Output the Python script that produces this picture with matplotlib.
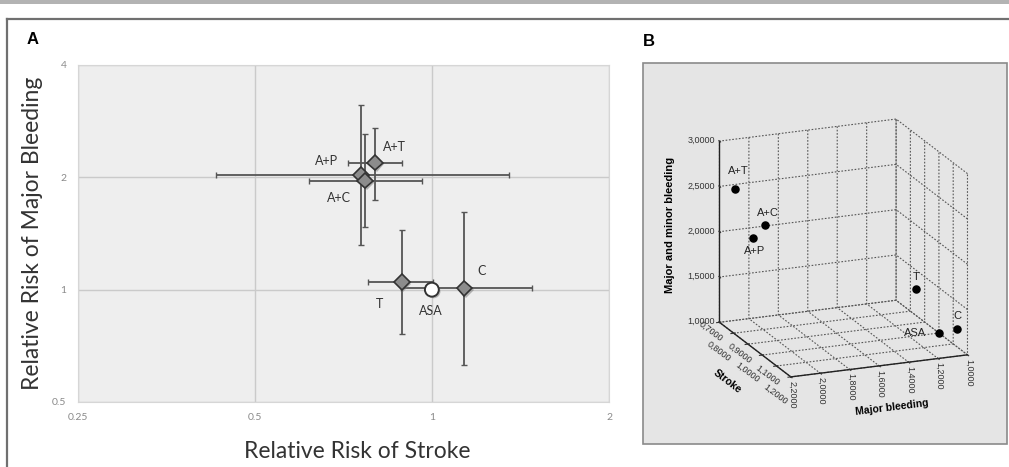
import matplotlib
matplotlib.use('Agg')
import numpy as np
import matplotlib.pyplot as plt
import matplotlib.ticker as mticker
import matplotlib.transforms as mtransforms
import matplotlib.patheffects as pe
from matplotlib.patches import Rectangle
from matplotlib.lines import Line2D

# relative risk vs aspirin alone, point estimate and 95% CI
arms = ['A+T', 'A+P', 'A+C', 'T', 'ASA', 'C']
stroke_rr = [0.80, 0.757, 0.77, 0.889, 1.0, 1.136]
stroke_lo = [0.72, 0.429, 0.618, 0.779, 1.0, 0.885]
stroke_hi = [0.89, 1.35, 0.961, 1.005, 1.0, 1.48]
major_rr = [2.19, 2.03, 1.96, 1.048, 1.0, 1.008]
major_lo = [1.74, 1.32, 1.47, 0.759, 1.0, 0.63]
major_hi = [2.71, 3.12, 2.62, 1.441, 1.0, 1.61]
# major + minor bleeding, used in the 3D view
any_bleed_rr = [2.59, 1.96, 2.105, 1.364, 1.0, 1.21]

# label offsets in points
offs_a = [(14.4, 11.5), (-24.7, 10.3), (-18.5, -12.5), (-16.3, -15.6), (-0.7, -15.1), (12, 12.5)]
offs_b = [(2, 13), (1.5, -9.4), (2, 9), (0, 8.6), (-17, 0), (0, 9.4)]

W, H = 1009, 467
fig = plt.figure(figsize=(W / 100, H / 100), dpi=100)

# outer frame
fig.add_artist(Rectangle((0, 1 - 3.5 / H), 1, 3.5 / H, transform=fig.transFigure,
                         fc='#b3b3b3', ec='none'))
fig.add_artist(Line2D([6.5 / W, 1], [1 - 18.5 / H] * 2, color='#707070', lw=1.6))
fig.add_artist(Line2D([6.5 / W] * 2, [0, 1 - 18.5 / H], color='#707070', lw=1.6))

# ---------------- panel A ----------------
ax = fig.add_axes([77.6 / W, 1 - 402 / H, (609 - 77.6) / W, (402 - 65) / H])
ax.set_xscale('log', base=2)
ax.set_yscale('log', base=2)
ax.set_xlim(0.25, 2)
ax.set_ylim(0.5, 4)
ax.set_facecolor('#eeeeee')
ax.set_xticks([0.25, 0.5, 1, 2])
ax.set_xticklabels(['0.25', '0.5', '1', '2'], family='Lato')
ax.set_yticks([0.5, 1, 2, 4])
ax.set_yticklabels(['0.5', '1', '2', '4'], family='Lato')
ax.xaxis.set_minor_locator(mticker.NullLocator())
ax.yaxis.set_minor_locator(mticker.NullLocator())
ax.grid(True, color='#cacaca', lw=1)
ax.set_axisbelow(True)
ax.tick_params(length=0, labelsize=7.5, labelcolor='#8a8a8a', pad=8)
for s in ax.spines.values():
    s.set_color('#d6d6d6')

x = np.array(stroke_rr)
y = np.array(major_rr)
has_ci = np.array(stroke_lo) != np.array(stroke_hi)
xerr = np.array([x - np.array(stroke_lo), np.array(stroke_hi) - x])
yerr = np.array([y - np.array(major_lo), np.array(major_hi) - y])
ax.errorbar(x[has_ci], y[has_ci], xerr=xerr[:, has_ci], yerr=yerr[:, has_ci],
            fmt='none', ecolor='#555555', elinewidth=1.3, capsize=2.5, capthick=1, zorder=2)

shadow = [pe.SimplePatchShadow(offset=(1.2, -1.2), shadow_rgbFace='#777777', alpha=0.5), pe.Normal()]
combo = ~np.array([a == 'ASA' for a in arms])
ax.plot(x[combo], y[combo], 'D', ms=8, mfc='#8c8c8c', mec='#333333', mew=1.2,
        zorder=3, path_effects=shadow)
ax.plot(x[~combo], y[~combo], 'o', ms=10, mfc='white', mec='#333333', mew=1.4,
        zorder=4, path_effects=shadow)

for name, xi, yi, o in zip(arms, x, y, offs_a):
    ax.annotate(name, (xi, yi), xytext=o, textcoords='offset points', ha='center', va='center',
                fontsize=9, family='Lato', color='#333333')

ax.set_xlabel('Relative Risk of Stroke', fontsize=16.5, family='Lato', color='#333333')
ax.set_ylabel('Relative Risk of Major Bleeding', fontsize=16.5, family='Lato', color='#333333')
ax.xaxis.set_label_coords(0.527, -0.115)
ax.yaxis.set_label_coords(-0.066, 0.5)

fig.text(33 / W, 1 - 40 / H, 'A', fontsize=12, weight='bold', ha='center', va='center', family='Liberation Sans')
fig.text(649 / W, 1 - 42 / H, 'B', fontsize=12, weight='bold', ha='center', va='center', family='Liberation Sans')

# ---------------- panel B ----------------
fig.add_artist(Rectangle((643 / W, 1 - 444 / H), (1006.7 - 643) / W, (444 - 62.7) / H,
                         transform=fig.transFigure, fc='#e5e5e5', ec='#8a8a8a', lw=1.2, zorder=-1))

bx = fig.add_axes([0.6729, 0.0846, 0.3175, 0.7503], projection='3d', proj_type='ortho')
bx.set_facecolor('none')
bx.view_init(elev=18, azim=-22)
bx.set_box_aspect((1, 1, 1))
bx.scatter(stroke_rr, major_rr, any_bleed_rr, c='k', s=26, depthshade=False)
bx.set_xlim(0.7, 1.2)
bx.set_ylim(2.2, 1.0)
bx.set_zlim(1.0, 3.0)
bx.set_xticks(np.arange(0.7, 1.21, 0.1))
bx.set_yticks(np.arange(1.0, 2.21, 0.2))
bx.set_zticks(np.arange(1.0, 3.01, 0.5))


def comma(v, pos=None):
    return f'{v:.4f}'.replace('.', ',')


def comma_staggered(v, pos):
    # alternate rows so neighbouring labels don't collide
    s = comma(v)
    return s + '\n' if pos % 2 == 0 else '\n' + s


bx.xaxis.set_major_formatter(mticker.FuncFormatter(comma_staggered))
bx.yaxis.set_major_formatter(mticker.FuncFormatter(comma))
bx.zaxis.set_major_formatter(mticker.FuncFormatter(comma))
for axis in (bx.xaxis, bx.yaxis, bx.zaxis):
    axis.set_pane_color((0, 0, 0, 0))
    axis.pane.set_edgecolor('#555555')
    axis.pane.set_linestyle((0, (1.5, 1.5)))
    axis.pane.set_linewidth(0.8)
    axis._axinfo['grid'].update(color='#555555', linestyle=(0, (1.5, 1.5)), linewidth=0.8)
    axis.line.set_color('#222222')
    axis.line.set_linewidth(1)
    axis.offsetText.set_visible(False)
bx.zaxis.set_ticks_position('upper')
bx.zaxis.set_label_position('upper')
bx.tick_params(labelsize=6.5, colors='#333333')
bx.xaxis.set_tick_params(pad=0)
bx.yaxis.set_tick_params(pad=-6)
bx.zaxis.set_tick_params(pad=-6)
for lbl in bx.xaxis.get_majorticklabels():
    lbl.set(rotation=-37, rotation_mode='anchor', ha='center', va='center', family='Liberation Sans')
for lbl in bx.yaxis.get_majorticklabels():
    lbl.set(rotation=-90, rotation_mode='anchor', ha='left', va='center', family='Liberation Sans')
for lbl in bx.zaxis.get_majorticklabels():
    lbl.set(ha='right', va='center', family='Liberation Sans')
bx.set_xlabel('Stroke', fontsize=7.5, weight='bold', family='Liberation Sans', labelpad=-2)
bx.set_ylabel('Major bleeding', fontsize=7.5, weight='bold', family='Liberation Sans', labelpad=0)
bx.set_zlabel('Major and minor bleeding', fontsize=8, weight='bold', family='Liberation Sans', labelpad=3)

for name, xi, yi, zi, o in zip(arms, stroke_rr, major_rr, any_bleed_rr, offs_b):
    tr = mtransforms.offset_copy(bx.transData, fig=fig, x=o[0], y=o[1], units='points')
    bx.text(xi, yi, zi, name, transform=tr, ha='center', va='center', fontsize=8,
            family='Liberation Sans', color='#222222')

fig.savefig('out.png', dpi=100)
